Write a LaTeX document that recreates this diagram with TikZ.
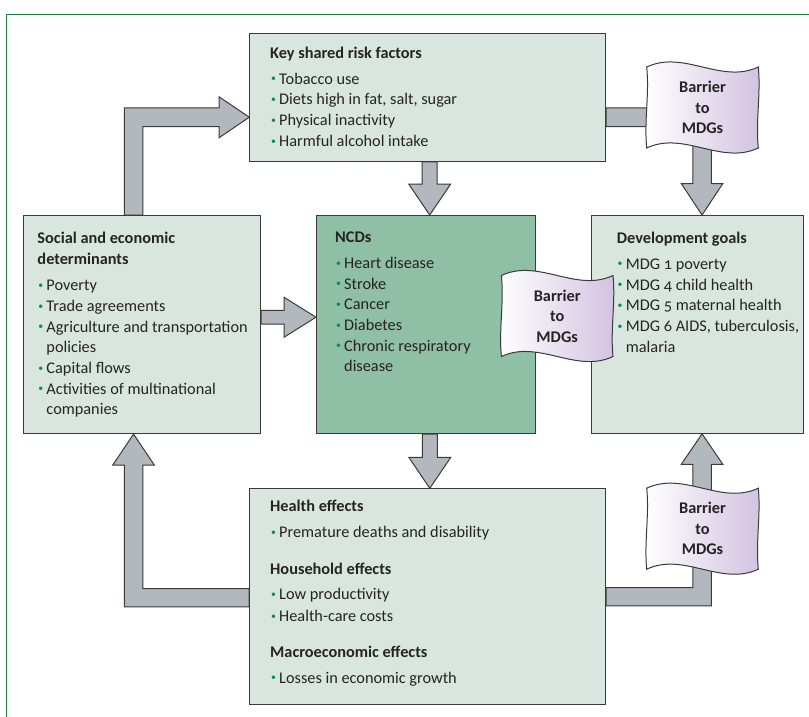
\documentclass[tikz,border=0pt]{standalone}
\usepackage{fontspec}
\setmainfont[Numbers=OldStyle]{Carlito}
\usetikzlibrary{calc}
\definecolor{boxfill}{HTML}{D9E6DF}
\definecolor{ncdfill}{HTML}{8FBFA5}
\definecolor{arrowfill}{HTML}{B2B8BD}
\definecolor{edge}{HTML}{3A3A3A}
\definecolor{framegreen}{HTML}{1E7F4A}
\definecolor{bulgreen}{HTML}{0A8A55}
\definecolor{flagpurple}{HTML}{D2C2E0}
\definecolor{txt}{HTML}{262324}
\pgfdeclarelayer{background}
\pgfdeclarelayer{flagbg}
\pgfdeclarelayer{front}
\pgfsetlayers{background,main,flagbg,front}
\newcommand{\bodyfont}{\fontsize{16.3}{20.7}\selectfont}
\newcommand{\bul}{\makebox[9pt][l]{\hspace{0.8pt}\textcolor{bulgreen}{\raisebox{0.3ex}{\scalebox{0.6}{\char"2022}}}}}
\newcommand{\cont}{\hspace*{9pt}}
\newcommand{\blockdown}[3]{(#1-7.5pt,#2) -- (#1-7.5pt,#3+31pt) -- (#1-21pt,#3+31pt) -- (#1,#3) -- (#1+21pt,#3+31pt) -- (#1+7.5pt,#3+31pt) -- (#1+7.5pt,#2) -- cycle}
\newcommand{\blockright}[3]{(#2,#1+6.8pt) -- (#3-32pt,#1+6.8pt) -- (#3-32pt,#1+20pt) -- (#3,#1) -- (#3-32pt,#1-20pt) -- (#3-32pt,#1-6.8pt) -- (#2,#1-6.8pt) -- cycle}
\newcommand{\flagpath}{(\x1-55.8pt,\y1+40.5pt) .. controls (\x1-18.6pt,\y1+58pt) and (\x1+18.6pt,\y1+23pt) .. (\x1+55.8pt,\y1+40.5pt) .. controls (\x1+58.5pt,\y1+13.5pt) and (\x1+53pt,\y1-13.5pt) .. (\x1+55.8pt,\y1-40.5pt) .. controls (\x1+18.6pt,\y1-58pt) and (\x1-18.6pt,\y1-23pt) .. (\x1-55.8pt,\y1-40.5pt) .. controls (\x1-58.5pt,\y1-13.5pt) and (\x1-53pt,\y1+13.5pt) .. cycle}
\tikzset{
  box/.style={draw=edge, line width=1.1pt, fill=boxfill, rectangle, inner sep=0pt, anchor=north west},
  txtblock/.style={anchor=base west, inner sep=0pt, font=\bodyfont, text=txt},
  barrow/.style={draw=edge, line width=1pt, fill=arrowfill, line join=miter},
  flagshape/.style={draw=edge, line width=1pt, left color=white, right color=flagpurple},
  flagtext/.style={font=\fontsize{16.3}{20.5}\selectfont\bfseries, text=txt, align=center, inner sep=0pt},
}
\begin{document}
\begin{tikzpicture}[x=1pt,y=-1pt]
\useasboundingbox (0,0) rectangle (809,717);
\draw[framegreen, line width=1.2pt] (6.7,717) -- (6.7,14.3) -- (809,14.3);

% boxes
\node[box, minimum width=355.7pt, minimum height=128pt] (risk) at (249.3,32.7) {};
\node[box, minimum width=236.7pt, minimum height=218pt] (social) at (23.3,215) {};
\node[box, fill=ncdfill, minimum width=219.3pt, minimum height=218pt] (ncd) at (316,215) {};
\node[box, minimum width=211.7pt, minimum height=217.7pt] (dev) at (591,215) {};
\node[box, minimum width=356pt, minimum height=215.7pt] (effects) at (249,488.3) {};

% texts
\node[txtblock] (riskT) at (270,58.3) {\parbox[t]{330pt}{\raggedright
\textbf{Key shared risk factors}\\[5.3pt]
\bul Tobacco use\\
\bul Diets high in fat, salt, sugar\\
\bul Physical inactivity\\
\bul Harmful alcohol intake}};

\node[txtblock] (socialT) at (37.3,243.3) {\parbox[t]{220pt}{\raggedright
\textbf{Social and economic}\\
\textbf{determinants}\\[6pt]
\bul Poverty\\
\bul Trade agreements\\
\bul Agriculture and transportation\\
\cont policies\\
\bul Capital flows\\
\bul Activities of multinational\\
\cont companies}};

\node[txtblock] (ncdT) at (335,242.7) {\parbox[t]{190pt}{\raggedright
\textbf{NCDs}\\[5pt]
\bul Heart disease\\
\bul Stroke\\
\bul Cancer\\
\bul Diabetes\\
\bul Chronic respiratory\\
\cont disease}};

\node[txtblock] (devT) at (616.7,243.3) {\parbox[t]{185pt}{\raggedright
\textbf{Development goals}\\[5.3pt]
\bul MDG 1 poverty\\
\bul MDG 4 child health\\
\bul MDG 5 maternal health\\
\bul MDG 6 AIDS, tuberculosis,\\
\cont malaria}};

\node[txtblock] (effectsT) at (270,511.7) {\parbox[t]{320pt}{\raggedright
\textbf{Health effects}\\[5pt]
\bul Premature deaths and disability\\[16.5pt]
\textbf{Household effects}\\[4.5pt]
\bul Low productivity\\[1pt]
\bul Health-care costs\\[15pt]
\textbf{Macroeconomic effects}\\[5.3pt]
\bul Losses in economic growth}};

% arrows
\begin{pgfonlayer}{background}
\draw[barrow] let \p1=(risk.south), \p2=(ncd.north) in \blockdown{\x1+2pt}{\y1}{\y2};
\draw[barrow] let \p1=(ncd.south), \p2=(effects.north) in \blockdown{\x1+3.6pt}{\y1}{\y2};
\draw[barrow] let \p1=(social.east), \p2=(ncd.west) in \blockright{\y1+7.3pt}{\x1}{\x2};
\draw[barrow] let \p1=(social.north), \p2=(risk.west), \p3=(\x1-8.65pt,\y2-20pt) in
  (\x3-9.3pt,\y1) -- (\x3-9.3pt,\y3+9.3pt) -- (\x2-30.3pt,\y3+9.3pt) -- (\x2-30.3pt,\y3+20.5pt) -- (\x2,\y3) -- (\x2-30.3pt,\y3-20.5pt) -- (\x2-30.3pt,\y3-9.3pt) -- (\x3+9.3pt,\y3-9.3pt) -- (\x3+9.3pt,\y1) -- cycle;
\draw[barrow] let \p1=(risk.east), \p2=(dev.north), \p3=(\x2+4.65pt,\y1-20pt) in
  (\x1,\y3+9.3pt) -- (\x3+9.3pt,\y3+9.3pt) -- (\x3+9.3pt,\y2+31.5pt) -- (\x3+20.8pt,\y2+31.5pt) -- (\x3,\y2) -- (\x3-20.8pt,\y2+31.5pt) -- (\x3-9.3pt,\y2+31.5pt) -- (\x3-9.3pt,\y3-9.3pt) -- (\x1,\y3-9.3pt) -- cycle;
\draw[barrow] let \p1=(effects.east), \p2=(dev.south), \p3=(\x2+4.65pt,\y1) in
  (\x1,\y3+9.2pt) -- (\x3-9.2pt,\y3+9.2pt) -- (\x3-9.2pt,\y2-30.6pt) -- (\x3-20.8pt,\y2-30.6pt) -- (\x3,\y2) -- (\x3+20.8pt,\y2-30.6pt) -- (\x3+9.2pt,\y2-30.6pt) -- (\x3+9.2pt,\y3-9.2pt) -- (\x1,\y3-9.2pt) -- cycle;
\draw[barrow] let \p1=(effects.west), \p2=(social.south), \p3=(\x2-8.65pt,\y1-1pt) in
  (\x1,\y3+9.2pt) -- (\x3+9.2pt,\y3+9.2pt) -- (\x3+9.2pt,\y2-31pt) -- (\x3+20.8pt,\y2-31pt) -- (\x3,\y2) -- (\x3-20.8pt,\y2-31pt) -- (\x3-9.2pt,\y2-31pt) -- (\x3-9.2pt,\y3-9.2pt) -- (\x1,\y3-9.2pt) -- cycle;
\end{pgfonlayer}

% flags
\begin{pgfonlayer}{front}
\node[flagtext] (bar1) at (702.5,107.5) {Barrier\\to\\MDGs};
\node[flagtext] (bar2) at (557.2,316) {Barrier\\to\\MDGs};
\node[flagtext] (bar3) at (702.5,528.7) {Barrier\\to\\MDGs};
\end{pgfonlayer}
\begin{pgfonlayer}{flagbg}
\draw[flagshape] let \p1=(bar1.center) in \flagpath;
\draw[flagshape] let \p1=(bar2.center) in \flagpath;
\draw[flagshape] let \p1=(bar3.center) in \flagpath;
\end{pgfonlayer}
\end{tikzpicture}
\end{document}
